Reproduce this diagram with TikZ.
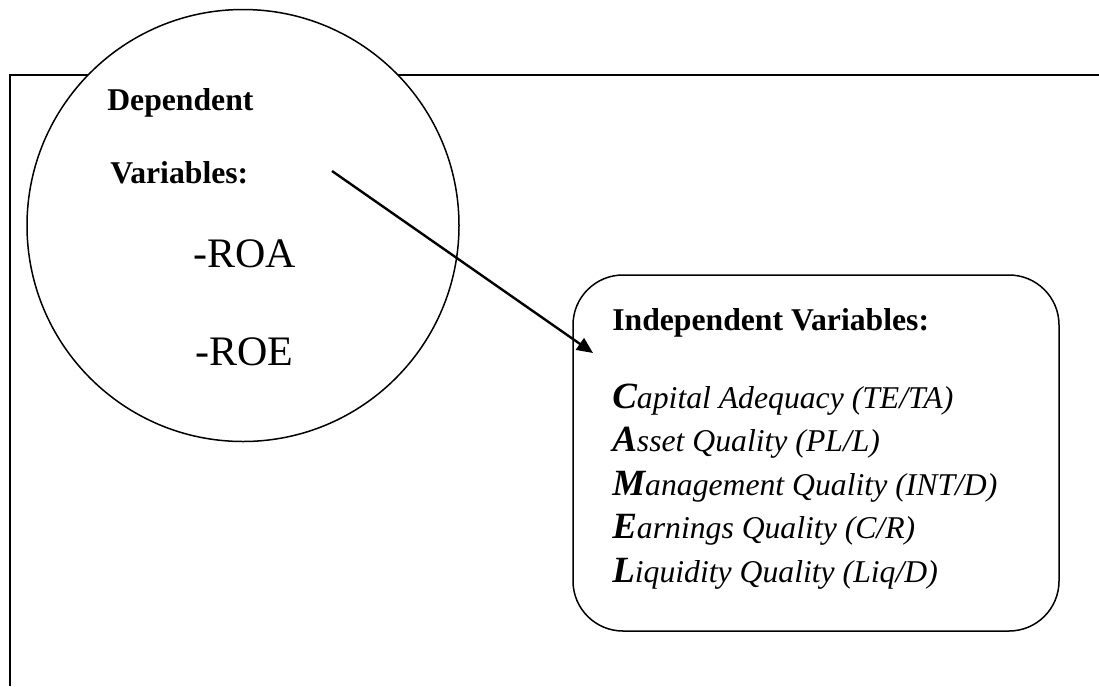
\documentclass[tikz,border=0pt]{standalone}
\usepackage{fontspec}
\setmainfont{Liberation Serif}
\usetikzlibrary{arrows.meta,positioning}

\tikzset{
  txt/.style={anchor=base west, inner sep=0pt},
  head/.style={txt, font=\fontsize{31.7}{32}\selectfont\bfseries},
  ratio/.style={txt, font=\fontsize{42}{42}\selectfont},
  camel/.style={txt, font=\fontsize{31.7}{32}\selectfont\itshape},
}
\newcommand{\camelcap}[1]{{\fontsize{37}{37}\selectfont\bfseries #1}}

\begin{document}
\begin{tikzpicture}[x=1pt, y=-1pt, semithick]
  \useasboundingbox (0,0) rectangle (1099,686);
  % frame
  \draw [line width=2pt] (10,686) -- (10,75) -- (1099,75);
  % dependent circle
  \node [circle, draw, fill=white, line width=1.5pt, minimum size=432pt] (dep) at (243,225.5) {};
  \node [head] (d1) at (107,110) {Dependent};
  \node [head] (d2) at (110,183) {Variables:};
  \node [ratio] (roa) at (193,267) {-ROA};
  \node [ratio] (roe) at (195,365) {-ROE};
  % independent box
  \node [draw, rounded corners=50pt, line width=1.5pt, minimum width=486pt,
         minimum height=356pt] (indep) at (816,453) {};
  \node [head] (i0) at (612,330) {Independent Variables:};
  \node [camel] (c) at (612,408) {\camelcap{C}apital Adequacy (TE/TA)};
  \node [camel] (a) at (612,451.5) {\camelcap{A}sset Quality (PL/L)};
  \node [camel] (m) at (612,495) {\camelcap{M}anagement Quality (INT/D)};
  \node [camel] (e) at (612,538.5) {\camelcap{E}arnings Quality (C/R)};
  \node [camel] (l) at (612,582) {\camelcap{L}iquidity Quality (Liq/D)};
  % arrow
  \coordinate (from) at (332,171);
  \coordinate (to) at (593,353);
  \draw [-{Triangle[length=16pt,width=14pt]}, line width=2.4pt] (from) -- (to);
\end{tikzpicture}
\end{document}
